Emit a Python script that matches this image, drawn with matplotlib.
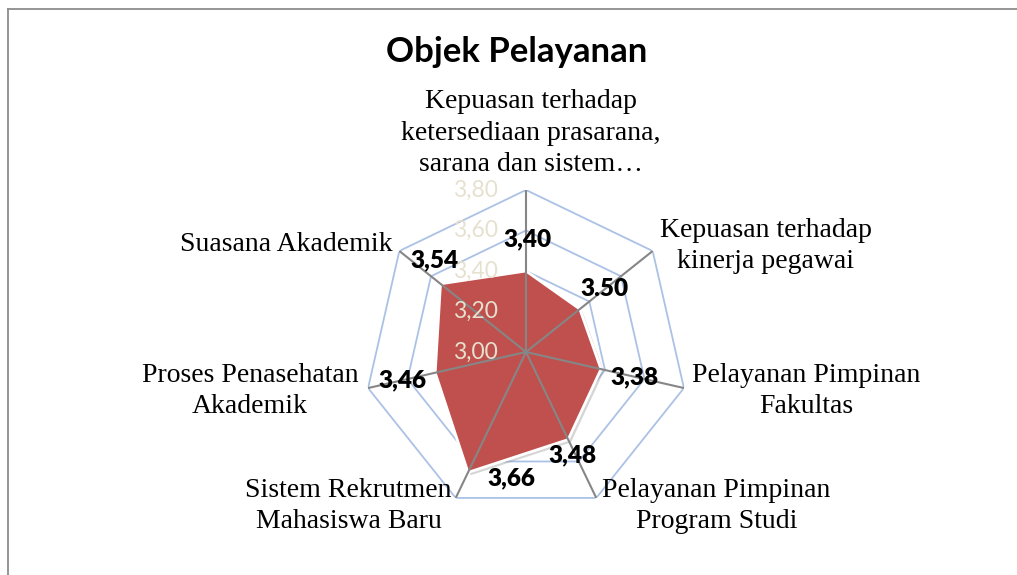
import numpy as np
import matplotlib
matplotlib.use("Agg")
import matplotlib.pyplot as plt
from matplotlib.lines import Line2D
import matplotlib.patheffects as pe

# data
categories = [
    "Kepuasan terhadap\nketersediaan prasarana,\nsarana dan sistem\u2026",
    "Kepuasan terhadap\nkinerja pegawai",
    "Pelayanan Pimpinan\nFakultas",
    "Pelayanan Pimpinan\nProgram Studi",
    "Sistem Rekrutmen\nMahasiswa Baru",
    "Proses Penasehatan\nAkademik",
    "Suasana Akademik",
]
values = [3.40, 3.34, 3.38, 3.48, 3.66, 3.46, 3.54]
value_labels = ["3,40", "3.50", "3,38", "3,48", "3,66", "3,46", "3,54"]
r_ticks = [3.00, 3.20, 3.40, 3.60, 3.80]
r_tick_labels = ["3,00", "3,20", "3,40", "3,60", "3,80"]
title = "Objek Pelayanan"

# label offsets (pixels) from the plotted point / outer vertex
val_off = [(1, 32), (25, 20), (33, -8), (4, -16), (43, -6), (-33, -8), (-6, 24)]
cat_off = [(5, 57), (113, 5), (122, -3), (120, -8), (-107, -8), (-118, -3), (-113, 6)]

W, H = 1017, 575
fig = plt.figure(figsize=(W / 100, H / 100), dpi=100)
fig.patch.set_facecolor("white")

cx, cy, R = 526, 352, 162
ax = fig.add_axes([(cx - R) / W, (H - cy - R) / H, 2 * R / W, 2 * R / H], projection="polar")
ax.set_theta_offset(np.pi / 2)
ax.set_theta_direction(-1)
ax.set_ylim(r_ticks[0], r_ticks[-1])
ax.set_axis_off()

n = len(categories)
ang = np.arange(n) * 2 * np.pi / n
ang_c = np.append(ang, ang[0])

# rings
for r in r_ticks[1:]:
    ax.plot(ang_c, [r] * (n + 1), color="#ABC2E6", lw=1.3, zorder=1)

# series
vals_c = values + values[:1]
poly = ax.fill(ang_c, vals_c, facecolor="#C0504D", edgecolor="white", lw=2, zorder=2)[0]
poly.set_path_effects([pe.SimplePatchShadow(offset=(2, -2), shadow_rgbFace="#888888", alpha=0.35),
                       pe.Normal()])

# spokes
for a in ang:
    ax.plot([a, a], [r_ticks[0], r_ticks[-1]], color="#868686", lw=1.5, zorder=3)

# radial tick labels
for t, lab in zip(r_ticks, r_tick_labels):
    ax.annotate(lab, xy=(0, t), xytext=(-28, 0), textcoords="offset pixels",
                ha="right", va="center", color="#E6E1CF", fontsize=16.5,
                family="Lato", zorder=4, annotation_clip=False)

# data labels
for a, v, lab, off in zip(ang, values, value_labels, val_off):
    ax.annotate(lab, xy=(a, v), xytext=off, textcoords="offset pixels",
                ha="center", va="center", fontsize=17.5, fontweight="heavy",
                family="Lato", color="black", zorder=5, annotation_clip=False)

# category labels
for a, lab, off in zip(ang, categories, cat_off):
    ax.annotate(lab, xy=(a, r_ticks[-1]), xytext=off, textcoords="offset pixels",
                ha="center", va="center", multialignment="center", linespacing=1.32,
                fontsize=20, family="Liberation Serif", color="black",
                zorder=5, annotation_clip=False)

fig.text(517 / W, 1 - 52 / H, title, ha="center", va="center",
         fontsize=25, fontweight="bold", family="Lato")

# chart border (top and left visible)
fig.add_artist(Line2D([7.5 / W, 7.5 / W], [0, 1 - 8.5 / H], transform=fig.transFigure,
                      color="#8c8c8c", lw=1.3))
fig.add_artist(Line2D([7.5 / W, 1], [1 - 8.5 / H, 1 - 8.5 / H], transform=fig.transFigure,
                      color="#8c8c8c", lw=1.3))

fig.savefig("out.png", dpi=100)
